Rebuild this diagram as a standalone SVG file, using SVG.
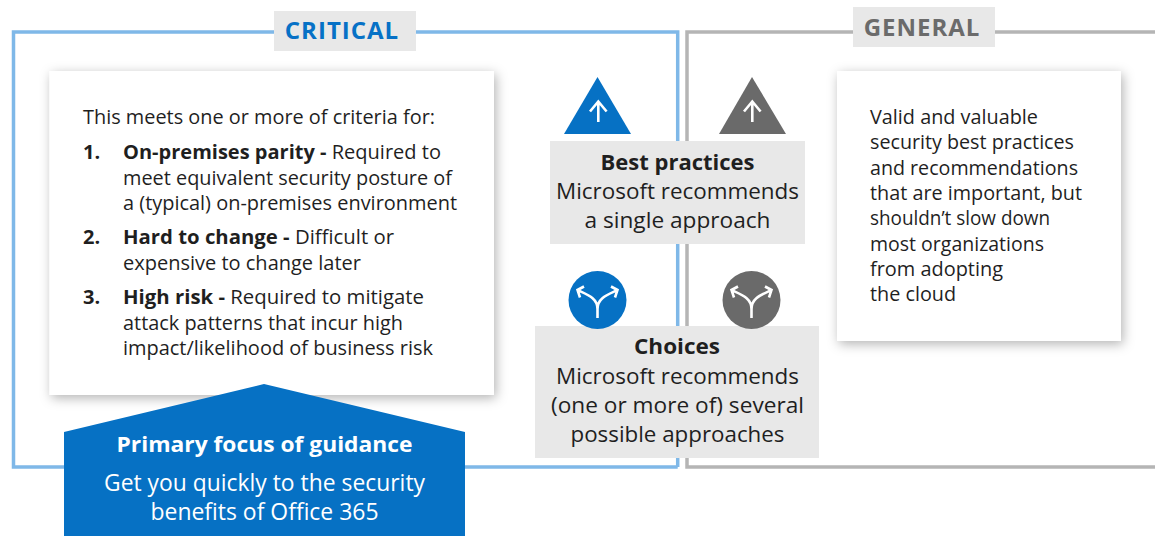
<svg xmlns="http://www.w3.org/2000/svg" width="1155" height="536" viewBox="0 0 1155 536">
<style>
text{font-family:"Open Sans","Noto Sans","Liberation Sans",sans-serif;font-size:20px;fill:#1f1f1f}
.b{font-weight:700}
.m{text-anchor:middle}
.w{fill:#fff}
.f{fill:none;stroke-width:3.500}
.l{fill:#e8e8e8}
.i{fill:none;stroke:#fff;stroke-width:2.600}
</style>
<defs><filter id="s" x="-10%" y="-10%" width="120%" height="125%"><feDropShadow dx="2" dy="3" stdDeviation="6" flood-color="#000" flood-opacity="0.3"/></filter></defs>
<g id="connectors">
<path class="f" stroke="#7fb8e8" d="M677.700 467H13.500V32H677.700V467"/>
<path class="f" stroke="#b5b5b5" d="M1155 32H687V467H1155"/>
</g>
<g id="critical-label"><rect class="l" x="274" y="11" width="142" height="40"/><text class="b m" x="342" y="39" style="font-size:24px;fill:#0671c6;letter-spacing:1px">CRITICAL</text></g>
<g id="general-label"><rect class="l" x="853" y="7" width="142" height="40"/><text class="b m" x="922" y="36" style="font-size:24px;fill:#6b6b6b;letter-spacing:1px">GENERAL</text></g>
<g id="critical-card"><rect x="49.500" y="71" width="444.500" height="324" fill="#fff" filter="url(#s)"/>
<text x="83" y="124" textLength="352" lengthAdjust="spacingAndGlyphs">This meets one or more of criteria for:</text>
<text class="b" x="83" y="159">1.</text>
<text x="123" y="159" textLength="318" lengthAdjust="spacingAndGlyphs"><tspan class="b">On-premises parity - </tspan>Required to</text>
<text x="123" y="185" textLength="329" lengthAdjust="spacingAndGlyphs">meet equivalent security posture of</text>
<text x="123" y="210" textLength="334" lengthAdjust="spacingAndGlyphs">a (typical) on-premises environment</text>
<text class="b" x="83" y="244">2.</text>
<text x="123" y="244" textLength="271" lengthAdjust="spacingAndGlyphs"><tspan class="b">Hard to change - </tspan>Difficult or</text>
<text x="123" y="270" textLength="238" lengthAdjust="spacingAndGlyphs">expensive to change later</text>
<text class="b" x="83" y="304">3.</text>
<text x="123" y="304" textLength="301" lengthAdjust="spacingAndGlyphs"><tspan class="b">High risk - </tspan>Required to mitigate</text>
<text x="123" y="330" textLength="280" lengthAdjust="spacingAndGlyphs">attack patterns that incur high</text>
<text x="123" y="355" textLength="310" lengthAdjust="spacingAndGlyphs">impact/likelihood of business risk</text>
</g>
<g id="primary-focus"><path fill="#0671c4" d="M64 432 264 384 465 432V536H64Z"/>
<text class="b m w" x="264.500" y="452" textLength="296" lengthAdjust="spacingAndGlyphs" style="font-size:21px">Primary focus of guidance</text>
<text class="m w" x="264.500" y="491" textLength="321" lengthAdjust="spacingAndGlyphs" style="font-size:23px">Get you quickly to the security</text>
<text class="m w" x="264.500" y="520" textLength="228" lengthAdjust="spacingAndGlyphs" style="font-size:23px">benefits of Office 365</text>
</g>
<g id="general-card"><rect x="837" y="71" width="284" height="270" fill="#fff" filter="url(#s)"/>
<text x="870" y="124" textLength="168" lengthAdjust="spacingAndGlyphs">Valid and valuable</text>
<text x="870" y="149" textLength="204" lengthAdjust="spacingAndGlyphs">security best practices</text>
<text x="870" y="175" textLength="208" lengthAdjust="spacingAndGlyphs">and recommendations</text>
<text x="870" y="200" textLength="212" lengthAdjust="spacingAndGlyphs">that are important, but</text>
<text x="870" y="225" textLength="180" lengthAdjust="spacingAndGlyphs">shouldn’t slow down</text>
<text x="870" y="251" textLength="174" lengthAdjust="spacingAndGlyphs">most organizations</text>
<text x="870" y="276" textLength="133" lengthAdjust="spacingAndGlyphs">from adopting</text>
<text x="870" y="301" textLength="86" lengthAdjust="spacingAndGlyphs">the cloud</text>
</g>
<g id="icon-best-critical"><path fill="#0671c4" d="M597.500 77 631 134H564Z"/><path class="i" d="M598.300 122V101.500M590 111.500 598.300 101.500 606.600 111.500"/></g>
<g id="icon-best-general"><path fill="#6a6a6a" d="M752 77 786 134H719Z"/><path class="i" d="M752.300 122V101.500M744 111.500 752.300 101.500 760.600 111.500"/></g>
<g id="best-practices"><rect class="l" x="550" y="141" width="255" height="103"/>
<text class="b m" x="677.500" y="170" textLength="154" lengthAdjust="spacingAndGlyphs" style="font-size:22px">Best practices</text>
<text class="m" x="677.500" y="199" textLength="243" lengthAdjust="spacingAndGlyphs" style="font-size:22px">Microsoft recommends</text>
<text class="m" x="677.500" y="228" textLength="186" lengthAdjust="spacingAndGlyphs" style="font-size:22px">a single approach</text>
</g>
<g id="choices"><rect class="l" x="535" y="326" width="284" height="132"/>
<text class="b m" x="677" y="354" textLength="86" lengthAdjust="spacingAndGlyphs" style="font-size:22px">Choices</text>
<text class="m" x="677.500" y="384" textLength="243" lengthAdjust="spacingAndGlyphs" style="font-size:22px">Microsoft recommends</text>
<text class="m" x="677.500" y="413" textLength="253" lengthAdjust="spacingAndGlyphs" style="font-size:22px">(one or more of) several</text>
<text class="m" x="677.500" y="442" textLength="214" lengthAdjust="spacingAndGlyphs" style="font-size:22px">possible approaches</text>
</g>
<g id="icon-choice-critical"><circle cx="597.500" cy="300" r="29" fill="#0671c4"/><path class="i" d="M597.500 318V309C597.500 298 588 295 577.500 290M584 286.500 577.500 290 580 297.500M597.500 309C597.500 298 607 295 617.500 290M611 286.500 617.500 290 615 297.500"/></g>
<g id="icon-choice-general"><circle cx="751.500" cy="300" r="29" fill="#6a6a6a"/><path class="i" d="M751.500 318V309C751.500 298 742 295 731.500 290M738 286.500 731.500 290 734 297.500M751.500 309C751.500 298 761 295 771.500 290M765 286.500 771.500 290 769 297.500"/></g>
</svg>
